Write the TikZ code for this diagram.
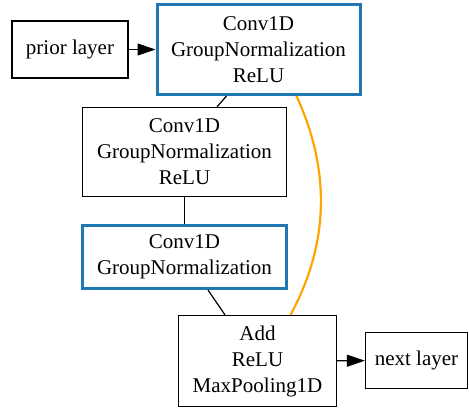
\documentclass[tikz,border=0pt]{standalone}
\usepackage{fontspec}
\setmainfont{Liberation Serif}
\usetikzlibrary{arrows.meta}
\definecolor{boxblue}{HTML}{1F77B4}
\definecolor{skiporange}{HTML}{FFA500}
\begin{document}
\begin{tikzpicture}[x=1pt,y=-1pt,
  layer/.style={draw=black,line width=1.2pt,rectangle,align=center,inner sep=0pt,
    font=\fontsize{21}{26}\selectfont},
  hl/.style={layer,draw=boxblue,line width=3pt},
  link/.style={line width=1.2pt},
  flow/.style={line width=1.2pt,-{Triangle[length=18pt,width=12pt]}},
  skip/.style={draw=skiporange,line width=2.2pt}]
\useasboundingbox (0,0) rectangle (469,408);
\node[layer,minimum width=116pt,minimum height=57pt] (prior) at (70,49.5) {prior layer};
\node[hl,minimum width=203pt,minimum height=90pt] (b1) at (258.5,49.5) {Conv1D\\GroupNormalization\\ReLU};
\node[layer,minimum width=204pt,minimum height=89pt] (b2) at (184.5,152) {Conv1D\\GroupNormalization\\ReLU};
\node[hl,minimum width=204pt,minimum height=63pt] (b3) at (184.5,257) {Conv1D\\GroupNormalization};
\node[layer,minimum width=158pt,minimum height=91pt] (add) at (257.5,361) {Add\\ReLU\\MaxPooling1D};
\node[layer,minimum width=102pt,minimum height=56pt] (next) at (416.5,360.5) {next layer};
\draw[flow] (prior) -- (b1);
\draw[flow] (add) -- (next);
\draw[link] ([xshift=-32pt]b1.south) -- ([xshift=32.5pt]b2.north);
\draw[link] (b2) -- (b3);
\draw[link] ([xshift=23.5pt]b3.south) -- ([xshift=-32.5pt]add.north);
\draw[skip] ([xshift=38pt]b1.south) .. controls (330,169) and (330,242) .. ([xshift=33pt]add.north);
\end{tikzpicture}
\end{document}
